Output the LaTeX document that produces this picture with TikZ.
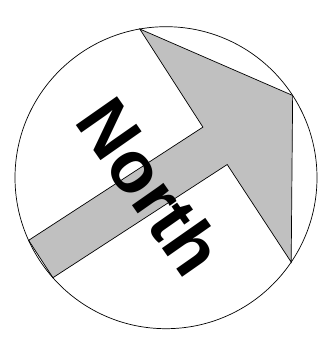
\documentclass[tikz,border=0pt]{standalone}
\usepackage{fontspec}
\setmainfont{Liberation Sans}
\usetikzlibrary{calc}
\definecolor{pointergray}{RGB}{192,192,192}
\tikzset{
  dial/.style    = {draw=black, line width=0.7pt},
  pointer/.style = {draw=black, fill=pointergray, line width=0.7pt, line join=miter},
  heading/.style = {font=\fontsize{73}{85}\selectfont\bfseries, inner sep=0pt},
}

\begin{document}
\begin{tikzpicture}[x=1pt, y=1pt]
  \useasboundingbox (0,0) rectangle (336,350);
  \coordinate (c) at (166,172.3);
  % compass arrow, axis tilted 33 degrees
  \begin{scope}[shift={(c)}, rotate=33]
    \coordinate (tip)   at (151,0);
    \coordinate (barbL) at (59,139);
    \coordinate (notchL) at (58.5,22.3);
    \coordinate (tailL) at (-149.3,22.3);
    \coordinate (tailR) at (-149.3,-22.3);
    \coordinate (notchR) at (58.5,-22.3);
    \coordinate (barbR) at (59,-139);
    \draw[pointer] (tip) -- (barbL) -- (notchL) -- (tailL) -- (tailR)
      -- (notchR) -- (barbR) -- cycle;
  \end{scope}
  \draw[dial] (c) circle (151);
  \node[heading, rotate=-55] (north) at ($(c)+(-15.5,-9)$) {North};
\end{tikzpicture}
\end{document}
